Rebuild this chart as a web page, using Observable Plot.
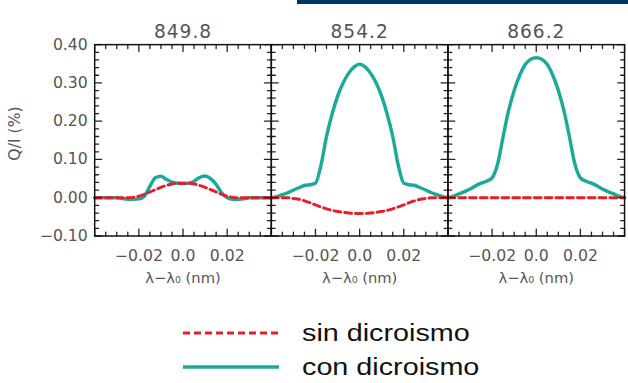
<!DOCTYPE html>
<html><head><meta charset="utf-8">
<script src="https://cdn.jsdelivr.net/npm/d3@7"></script>
<script src="https://cdn.jsdelivr.net/npm/@observablehq/plot@0.6"></script>
<style>
html,body{margin:0;padding:0;background:#fff;width:628px;height:383px;overflow:hidden;}
#wrap{position:relative;width:628px;height:383px;overflow:hidden;}
#chart{position:absolute;left:0;top:0;}
#bar{position:absolute;left:297px;top:0;width:331px;height:4px;background:#003366;}
.leg{position:absolute;left:183px;height:30px;display:flex;align-items:center;}
.leg svg{width:96px;height:10px;display:block;}
.leg span{display:inline-block;margin-left:23px;font-family:"Liberation Sans",Arial,sans-serif;font-size:23px;color:#111;transform:scaleX(1.25);transform-origin:left center;white-space:nowrap;}
svg text{font-family:"DejaVu Sans",sans-serif;}
g[aria-label="fx-axis tick label"] text{letter-spacing:1px;}
g[aria-label="xlabel"] text{letter-spacing:1.5px;}
g[aria-label="ylabel"] text{letter-spacing:0.5px;}
</style></head><body>
<div id="wrap"><div id="chart"></div><div id="bar"></div><div id="legend"></div></div>
<script>
const lines = ["849.8", "854.2", "866.2"];
const xs = [-0.04,-0.0375,-0.035,-0.0325,-0.03,-0.0275,-0.025,-0.0225,-0.02,-0.0175,-0.015,-0.0125,-0.01,-0.0075,-0.005,-0.0025,0,0.0025,0.005,0.0075,0.01,0.0125,0.015,0.0175,0.02,0.0225,0.025,0.0275,0.03,0.0325,0.035,0.0375,0.04];
// con dicroismo (teal, solid)
const con849 = [0,0,0,0,0,-0.002,-0.004,-0.004,-0.003,0.004,0.030,0.052,0.056,0.048,0.041,0.038,0.037,0.038,0.043,0.053,0.057,0.050,0.035,0.013,0.000,-0.004,-0.004,-0.003,0,0,0,0,0];
const con854 = [0,0.003,0.008,0.013,0.020,0.026,0.032,0.034,0.038,0.085,0.160,0.218,0.265,0.300,0.325,0.342,0.349,0.342,0.325,0.300,0.265,0.218,0.160,0.085,0.038,0.034,0.032,0.026,0.020,0.013,0.008,0.003,0];
const con866 = [0,0.004,0.010,0.016,0.023,0.031,0.038,0.043,0.052,0.088,0.160,0.228,0.280,0.320,0.348,0.362,0.366,0.362,0.348,0.320,0.280,0.228,0.160,0.088,0.052,0.043,0.038,0.031,0.023,0.016,0.010,0.004,0];
// sin dicroismo (red, dashed)
const sin849 = [0,0,0,0,0,0,0,0.001,0.004,0.009,0.015,0.021,0.027,0.032,0.036,0.038,0.038,0.038,0.036,0.032,0.027,0.021,0.015,0.009,0.004,0.001,0,0,0,0,0,0,0];
const sin854 = [0,0,0,0,-0.002,-0.004,-0.008,-0.013,-0.019,-0.024,-0.029,-0.033,-0.036,-0.038,-0.040,-0.041,-0.041,-0.041,-0.040,-0.038,-0.036,-0.033,-0.029,-0.024,-0.019,-0.013,-0.008,-0.004,-0.002,0,0,0,0];
const sin866 = [0,0,0,0,0,0,0,0,0,0,0,0,0,0,0,0,0,0,0,0,0,0,0,0,0,0,0,0,0,0,0,0,0];

const xTicks = [-0.02, 0, 0.02];
const xTickLabels = ["\u22120.02", "0.0", "0.02"];
const xMajor = [-0.04, -0.02, 0, 0.02, 0.04];
const xMinor = [-0.035,-0.03,-0.025,-0.015,-0.01,-0.005,0.005,0.01,0.015,0.025,0.03,0.035];
const yTicks = [-0.10, 0, 0.10, 0.20, 0.30, 0.40];
const yTickLabels = ["\u22120.10", "0.00", "0.10", "0.20", "0.30", "0.40"];
const yMinor = [-0.08,-0.06,-0.04,-0.02,0.02,0.04,0.06,0.08,0.12,0.14,0.16,0.18,0.22,0.24,0.26,0.28,0.32,0.34,0.36,0.38];
const xLabel = "\u03bb\u2212\u03bb\u2080 (nm)";
const yLabel = "Q/I (%)";
const seriesNames = ["sin dicroismo", "con dicroismo"];
const teal = "#1aa99a";
const red = "#e3202a";

const conAll = [con849, con854, con866];
const sinAll = [sin849, sin854, sin866];
const conRows = [], sinRows = [];
lines.forEach((l, i) => xs.forEach((x, j) => {
  conRows.push({line: l, x, y: conAll[i][j]});
  sinRows.push({line: l, x, y: sinAll[i][j]});
}));
const xLab = new Map(xTicks.map((t, i) => [t, xTickLabels[i]]));
const yLab = new Map(yTicks.map((t, i) => [t, yTickLabels[i]]));

// inward tick marks drawn as short vectors anchored on the frame
const tickShape = {draw(context, l) { context.moveTo(0, 0); context.lineTo(0, -l); }};
const xTickMarks = (data, side, len) => Plot.vector(data, {x: d => d, frameAnchor: side, length: len, rotate: side === "bottom" ? 0 : 180, anchor: "start", shape: tickShape, stroke: "#222", strokeWidth: 1.3});
const yTickMarks = (data, side, len) => Plot.vector(data, {y: d => d, frameAnchor: side, length: len, rotate: side === "left" ? 90 : -90, anchor: "start", shape: tickShape, stroke: "#222", strokeWidth: 1.3});

const chart = Plot.plot({
  width: 640, height: 300,
  marginTop: 45, marginBottom: 60, marginLeft: 96, marginRight: 4,
  style: {background: "white", color: "#555", fontFamily: "DejaVu Sans"},
  fx: {domain: lines, padding: 0, label: null},
  x: {domain: [-0.04, 0.04]},
  y: {domain: [-0.10, 0.40]},
  marks: [
    Plot.line(conRows, {fx: "line", x: "x", y: "y", stroke: teal, strokeWidth: 3.5, curve: "monotone-x"}),
    Plot.line(sinRows, {fx: "line", x: "x", y: "y", stroke: red, strokeWidth: 3, strokeDasharray: "7,4", curve: "monotone-x"}),
    xTickMarks(xMinor, "bottom", 4),
    xTickMarks(xMajor, "bottom", 7),
    xTickMarks(xMinor, "top", 4),
    xTickMarks(xMajor, "top", 7),
    yTickMarks(yMinor, "left", 4),
    yTickMarks(yTicks, "left", 7),
    yTickMarks(yMinor, "right", 4),
    yTickMarks(yTicks, "right", 7),
    Plot.frame({stroke: "#111", strokeWidth: 1.5}),
    Plot.axisX({anchor: "bottom", ticks: xTicks, tickFormat: d => xLab.get(d), tickSize: 0, tickPadding: 14, fontSize: 16, label: null, fill: "#555"}),
    Plot.axisY({anchor: "left", ticks: yTicks, tickFormat: d => yLab.get(d), tickSize: 0, tickPadding: 7, fontSize: 16, label: null, fill: "#555"}),
    Plot.axisFx({anchor: "top", tickSize: 0, tickPadding: 7, fontSize: 19, label: null, fill: "#555"}),
    Plot.text(lines, {fx: d => d, text: () => xLabel, frameAnchor: "bottom", lineAnchor: "middle", dy: 43, fontSize: 15, fill: "#555", ariaLabel: "xlabel"}),
    Plot.text([yLabel], {fx: () => lines[0], text: d => d, frameAnchor: "left", textAnchor: "middle", lineAnchor: "middle", rotate: -90, dx: -81, dy: -7, fontSize: 16, fill: "#555", ariaLabel: "ylabel"})
  ]
});
document.getElementById("chart").appendChild(chart);

const legendStyles = [
  {stroke: red, width: 3, dash: "7,4", top: 318},
  {stroke: teal, width: 3.5, dash: null, top: 352}
];
const legend = document.getElementById("legend");
seriesNames.forEach((name, i) => {
  const st = legendStyles[i];
  const div = document.createElement("div");
  div.className = "leg";
  div.style.top = st.top + "px";
  div.innerHTML = `<svg viewBox="0 0 96 10"><line x1="0" y1="5" x2="96" y2="5" stroke="${st.stroke}" stroke-width="${st.width}" ${st.dash ? `stroke-dasharray="${st.dash}"` : ""}/></svg><span>${name}</span>`;
  legend.appendChild(div);
});
</script>
</body></html>
